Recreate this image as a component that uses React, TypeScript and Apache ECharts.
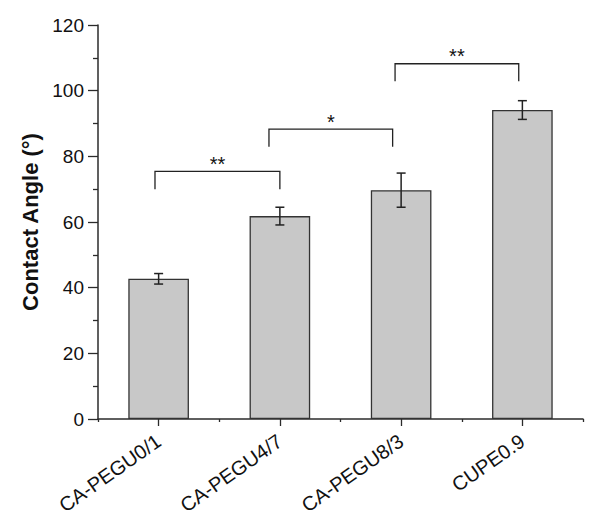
import React, { useEffect, useRef } from "react";
import * as echarts from "echarts";

const categories = ["CA-PEGU0/1", "CA-PEGU4/7", "CA-PEGU8/3", "CUPE0.9"];
const means = [42.7, 61.8, 69.7, 94.1];
const errors = [1.6, 2.7, 5.2, 2.85];

// significance brackets (positions in category units)
const bracketStart = [-0.03, 0.91, 1.95];
const bracketEnd = [1.0, 1.93, 2.97];
const bracketTop = [75.4, 88.3, 108.2];
const bracketLeg = [70.0, 82.9, 102.9];
const bracketLabel = ["**", "*", "**"];

const yTicks = { min: 0, max: 120, interval: 20 };

const FONT = "Liberation Sans, Arial, sans-serif";
const AXIS = "#2b2b2b";
const TEXT = "#111";

export default function App() {
  const ref = useRef<HTMLDivElement>(null);
  useEffect(() => {
    document.body.style.margin = "0";
    const chart = echarts.init(ref.current!, null, { renderer: "svg" });
    chart.setOption({
      animation: false,
      grid: { left: 98, right: 17, top: 25, bottom: 110, containLabel: false },
      xAxis: [
        {
          type: "category",
          data: categories,
          boundaryGap: true,
          axisLine: { show: true, lineStyle: { color: AXIS, width: 1.5 } },
          axisTick: { show: true, alignWithLabel: false, length: 3, lineStyle: { color: AXIS, width: 1.3 } },
          axisLabel: { rotate: 35, fontSize: 20, color: TEXT, fontFamily: FONT, margin: 20, interval: 0 },
          splitLine: { show: false },
        },
        {
          type: "category",
          data: categories,
          boundaryGap: true,
          position: "bottom",
          axisLine: { show: false },
          axisTick: { show: true, alignWithLabel: true, length: 7, lineStyle: { color: AXIS, width: 1.3 } },
          axisLabel: { show: false },
          splitLine: { show: false },
        },
      ],
      yAxis: {
        type: "value",
        min: yTicks.min,
        max: yTicks.max,
        interval: yTicks.interval,
        name: "Contact Angle (°)",
        nameLocation: "middle",
        nameGap: 54,
        nameTextStyle: { fontSize: 22, fontWeight: "bold", color: TEXT, fontFamily: FONT },
        axisLine: { show: true, lineStyle: { color: AXIS, width: 1.5 } },
        axisTick: { show: true, inside: false, length: 10, lineStyle: { color: AXIS, width: 1.3 } },
        minorTick: { show: true, splitNumber: 2, length: 5, lineStyle: { color: AXIS, width: 1.3 } },
        axisLabel: { fontSize: 19, color: TEXT, fontFamily: FONT, margin: 14 },
        splitLine: { show: false },
        minorSplitLine: { show: false },
      },
      series: [
        {
          type: "bar",
          data: means,
          barWidth: "50%",
          itemStyle: { color: "#c8c8c8", borderColor: "#333", borderWidth: 1.3 },
        },
        {
          type: "custom",
          data: means.map((m, i) => [i, m - errors[i], m + errors[i]]),
          encode: { x: 0, y: [1, 2] },
          clip: false,
          z: 5,
          renderItem: (params: any, api: any) => {
            const i = api.value(0);
            const lo = api.coord([i, api.value(1)]);
            const hi = api.coord([i, api.value(2)]);
            const hw = 4.5;
            const st = { stroke: "#222", lineWidth: 1.5 };
            return {
              type: "group",
              children: [
                { type: "line", shape: { x1: hi[0], y1: hi[1], x2: lo[0], y2: lo[1] }, style: st },
                { type: "line", shape: { x1: hi[0] - hw, y1: hi[1], x2: hi[0] + hw, y2: hi[1] }, style: st },
                { type: "line", shape: { x1: lo[0] - hw, y1: lo[1], x2: lo[0] + hw, y2: lo[1] }, style: st },
              ],
            };
          },
        },
        {
          type: "custom",
          data: bracketTop.map((_, k) => [k, bracketTop[k]]),
          encode: { x: 0, y: 1 },
          clip: false,
          z: 5,
          renderItem: (params: any, api: any) => {
            const k = params.dataIndex;
            const band = api.size([1, 0])[0];
            const c0 = api.coord([0, bracketTop[k]]);
            const legY = api.coord([0, bracketLeg[k]])[1];
            const x1 = c0[0] + bracketStart[k] * band;
            const x2 = c0[0] + bracketEnd[k] * band;
            const yT = c0[1];
            const st = { stroke: "#222", lineWidth: 1.3, fill: "none" };
            return {
              type: "group",
              children: [
                {
                  type: "polyline",
                  shape: { points: [[x1, legY], [x1, yT], [x2, yT], [x2, legY]] },
                  style: st,
                },
                {
                  type: "text",
                  x: (x1 + x2) / 2,
                  y: yT + 2.5,
                  style: {
                    text: bracketLabel[k],
                    fontSize: 20,
                    fontFamily: FONT,
                    fill: TEXT,
                    textAlign: "center",
                    textVerticalAlign: "bottom",
                  },
                },
              ],
            };
          },
        },
      ],
    });
    return () => chart.dispose();
  }, []);
  return <div ref={ref} style={{ width: 600, height: 529 }} />;
}
